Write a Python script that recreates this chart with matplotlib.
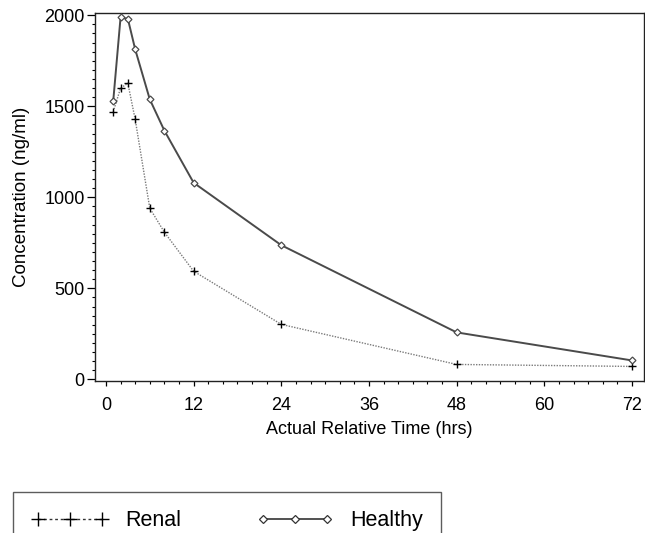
import matplotlib
matplotlib.use("Agg")
import matplotlib.pyplot as plt
from matplotlib.ticker import MultipleLocator
from matplotlib.lines import Line2D

plt.rcParams['font.family'] = ['Liberation Sans', 'DejaVu Sans']

# nominal sampling times (hrs)
times = [1, 2, 3, 4, 6, 8, 12, 24, 48, 72]
# mean concentrations (ng/ml)
renal = [1470, 1600, 1626, 1428, 940, 808, 594, 302, 82, 71]
healthy = [1531, 1989, 1980, 1813, 1538, 1366, 1080, 737, 258, 104]

xticks = [0, 12, 24, 36, 48, 60, 72]
yticks = [0, 500, 1000, 1500, 2000]

fig = plt.figure(figsize=(6.45, 5.33), dpi=100)
ax = fig.add_axes([95 / 645, 1 - 381 / 533, (644 - 95) / 645, (381 - 12.7) / 533])

ax.plot(times, renal, color='#7a7a7a', lw=1.0, linestyle=(0, (1, 1)),
        marker='+', markersize=6, mec='black', mew=1.0, zorder=3)
ax.plot(times, healthy, color='#4a4a4a', lw=1.4, linestyle='-',
        marker='D', markersize=3.5, mfc='white', mec='#4a4a4a', mew=0.9, zorder=4)

ax.set_xlim(-1.5, 73.65)
ax.set_ylim(-9, 2014)
ax.set_xticks(xticks)
ax.set_yticks(yticks)
ax.xaxis.set_minor_locator(MultipleLocator(2))
ax.yaxis.set_minor_locator(MultipleLocator(50))

for s in ['left', 'right', 'top', 'bottom']:
    ax.spines[s].set_linewidth(1.0)
    ax.spines[s].set_color('#222222')

ax.tick_params(axis='y', which='major', direction='out', length=6, width=0.9, labelsize=13, pad=1.5)
ax.tick_params(axis='y', which='minor', direction='out', length=2.5, width=0.8)
ax.tick_params(axis='x', which='major', direction='out', length=3.5, width=0.9, labelsize=13, pad=8)
ax.tick_params(axis='x', which='minor', direction='out', length=2, width=0.8)

ax.set_xlabel('Actual Relative Time (hrs)', fontsize=13, labelpad=5)
ax.set_ylabel('Concentration (ng/ml)', fontsize=13.5, labelpad=10)

handles = [
    Line2D([], [], color='#333333', lw=1.0, linestyle=(0, (2, 2)),
           marker='+', markersize=10, mec='black', mew=1.0),
    Line2D([], [], color='#333333', lw=1.2, marker='D', markersize=4,
           mfc='white', mec='#333333', mew=0.9),
]
leg = fig.legend(handles, ['Renal', 'Healthy'], loc='upper left',
                 bbox_to_anchor=(13 / 645, 1 - 492 / 533), ncol=2,
                 numpoints=3, handlelength=3.6, handletextpad=0.75,
                 columnspacing=3.5, fontsize=15.5, frameon=True,
                 fancybox=False, borderpad=0.85, borderaxespad=0)
leg.get_frame().set_edgecolor('#333333')
leg.get_frame().set_linewidth(1.0)

fig.savefig('out.png', dpi=100)
